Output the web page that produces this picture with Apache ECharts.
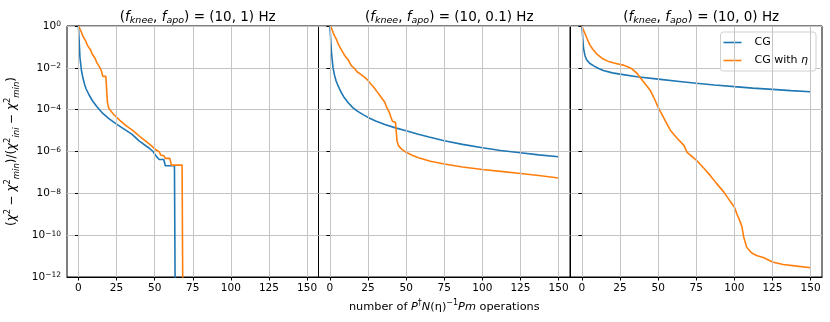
<!DOCTYPE html>
<html>
<head>
<meta charset="utf-8">
<script src="https://cdn.jsdelivr.net/npm/echarts@6/dist/echarts.min.js"></script>
<style>
  html, body { margin: 0; padding: 0; background: #fff; }
  #chart { width: 830px; height: 322px; }
</style>
</head>
<body>
<div id="chart"></div>
<script>
// f_apo value of each panel
const apoValues = ['1', '0.1', '0'];
const xTicks = [0, 25, 50, 75, 100, 125, 150];

// residuals, as log10 values; -20 means the curve fell to zero
const cgIter1 = [0, 1, 2, 3, 4, 5, 7, 9, 12, 16, 20, 25, 30, 35, 40, 46, 49, 50, 51, 52, 53, 56, 57, 63, 64];
const cgLog1 = [0, -1.5, -2.14, -2.5, -2.78, -3.0, -3.3, -3.55, -3.85, -4.18, -4.43, -4.69, -4.93, -5.17, -5.5, -5.82, -6.0, -6.12, -6.22, -6.22, -6.38, -6.38, -6.68, -6.68, -20];
const etaIter1 = [0, 1, 2, 3, 4, 5, 6, 7, 8, 9, 10, 11, 12, 13, 14, 15, 16, 18, 19, 20, 23, 27, 31, 36, 41, 47, 51, 53, 54, 56, 57, 60, 61, 68, 69];
const etaLog1 = [0, -0.15, -0.3, -0.5, -0.55, -0.75, -0.94, -0.98, -1.15, -1.34, -1.38, -1.55, -1.74, -1.78, -1.98, -2.14, -2.41, -2.41, -3.65, -3.95, -4.22, -4.5, -4.75, -5.01, -5.33, -5.67, -5.93, -6.01, -6.17, -6.2, -6.33, -6.33, -6.65, -6.65, -20];

const cgIter2 = [0, 1, 2, 3, 4, 5, 7, 9, 12, 15, 18, 22, 25, 30, 36, 43, 50, 58, 65, 75, 87, 100, 112, 125, 137, 150];
const cgLog2 = [0, -1.25, -1.98, -2.35, -2.62, -2.8, -3.12, -3.38, -3.67, -3.9, -4.07, -4.25, -4.37, -4.54, -4.71, -4.87, -5.01, -5.18, -5.31, -5.49, -5.66, -5.82, -5.95, -6.06, -6.16, -6.25];
const etaIter2 = [0, 1, 2, 3, 4, 5, 6, 8, 10, 12, 14, 16, 18, 20, 23, 25, 27, 29, 31, 33, 36, 37, 39, 40, 41, 43, 44, 45, 47, 50, 54, 58, 66, 75, 87, 100, 112, 125, 137, 150];
const etaLog2 = [0, -0.1, -0.3, -0.46, -0.6, -0.78, -0.94, -1.2, -1.45, -1.62, -1.9, -2.02, -2.2, -2.3, -2.47, -2.6, -2.78, -2.95, -3.15, -3.35, -3.65, -3.85, -4.13, -4.35, -4.55, -4.61, -5.5, -5.72, -5.89, -6.04, -6.18, -6.3, -6.47, -6.6, -6.74, -6.86, -6.95, -7.05, -7.15, -7.27];

const cgIter3 = [0, 1, 2, 3, 5, 8, 11, 14, 20, 25, 36, 50, 64, 75, 87, 100, 112, 125, 137, 150];
const cgLog3 = [0, -1.05, -1.42, -1.6, -1.78, -1.92, -2.03, -2.13, -2.24, -2.3, -2.43, -2.54, -2.65, -2.74, -2.82, -2.9, -2.97, -3.03, -3.09, -3.14];
const etaIter3 = [0, 1, 3, 5, 7, 10, 14, 17, 21, 27, 30, 33, 36, 38, 41, 45, 48, 50, 53, 56, 58, 62, 67, 69, 75, 80, 84, 88, 93, 97, 100, 102, 103, 104, 105, 106, 107, 108, 110, 112, 115, 119, 125, 132, 141, 150];
const etaLog3 = [0, -0.2, -0.54, -0.88, -1.1, -1.36, -1.58, -1.68, -1.77, -1.87, -1.95, -2.06, -2.25, -2.45, -2.72, -3.1, -3.55, -3.89, -4.3, -4.72, -4.98, -5.33, -5.72, -6.04, -6.41, -6.8, -7.13, -7.5, -7.93, -8.35, -8.65, -9.05, -9.2, -9.4, -9.6, -10.05, -10.05, -10.56, -10.75, -10.88, -10.98, -11.07, -11.28, -11.4, -11.48, -11.56];

const panels = [
  { cgIter: cgIter1, cgLog: cgLog1, etaIter: etaIter1, etaLog: etaLog1 },
  { cgIter: cgIter2, cgLog: cgLog2, etaIter: etaIter2, etaLog: etaLog2 },
  { cgIter: cgIter3, cgLog: cgLog3, etaIter: etaIter3, etaLog: etaLog3 }
];

const FONT = 'DejaVu Sans';
const gridLeft = [67, 318.5, 570.5];
const gridWidth = 251.5;

const toPairs = (xs, logs) => xs.map((x, i) => [x, Math.pow(10, logs[i])]);

const grids = [], xAxes = [], yAxes = [], titles = [], series = [];

panels.forEach((p, k) => {
  grids.push({
    left: gridLeft[k], top: 26, width: gridWidth, height: 251,
    show: true, borderColor: '#000', borderWidth: 1, backgroundColor: 'transparent'
  });
  titles.push({
    text: '({i|f}{sub|knee}, {i|f}{sub|apo}) = (10, ' + apoValues[k] + ') Hz',
    left: gridLeft[k] + gridWidth / 2,
    top: 3,
    textAlign: 'center',
    textStyle: {
      fontFamily: FONT, fontSize: 13.5, fontWeight: 'normal', color: '#000', lineHeight: 18,
      rich: {
        i: { fontStyle: 'italic', fontFamily: FONT, fontSize: 13.5, lineHeight: 18, verticalAlign: 'middle' },
        sub: { fontStyle: 'italic', fontFamily: FONT, fontSize: 9.5, lineHeight: 10, verticalAlign: 'bottom' }
      }
    }
  });
  xAxes.push({
    type: 'value', gridIndex: k, min: -7.5, max: 157.5,
    axisLine: { show: true, onZero: false, lineStyle: { color: '#000', width: 1 } },
    axisTick: { show: true, length: 3.5, lineStyle: { color: '#000' }, customValues: xTicks },
    axisLabel: { fontFamily: FONT, fontSize: 10.5, color: '#000', margin: 6, customValues: xTicks },
    splitLine: { show: false },
    name: k === 1 ? 'number of {i|P}{sup|†}{i|N}(η){sup|−1}{i|Pm} operations' : '',
    nameLocation: 'middle',
    nameGap: 22,
    nameTextStyle: {
      fontFamily: FONT, fontSize: 11.3, color: '#000', lineHeight: 16,
      rich: {
        i: { fontStyle: 'italic', fontFamily: FONT, fontSize: 11.3, lineHeight: 16, verticalAlign: 'middle' },
        sup: { fontFamily: FONT, fontSize: 8, lineHeight: 9, verticalAlign: 'top' }
      }
    }
  });
  yAxes.push({
    type: 'log', logBase: 10, gridIndex: k, min: 1e-12, max: 1, interval: 2,
    axisLine: { show: true, lineStyle: { color: '#000', width: 1 } },
    axisTick: { show: true, length: 3.5, lineStyle: { color: '#000' } },
    minorTick: { show: false },
    axisLabel: {
      show: k === 0, fontFamily: FONT, fontSize: 10.5, color: '#000', margin: 6,
      formatter: v => {
        const e = Math.round(Math.log10(v));
        return '10{sup|' + (e < 0 ? '−' + (-e) : e) + '}';
      },
      rich: {
        sup: { fontFamily: FONT, fontSize: 7.5, lineHeight: 8, verticalAlign: 'top', padding: [0, 0, 4, 0] }
      }
    },
    splitLine: { show: true, lineStyle: { color: '#c4c4c4', width: 1 } },
    name: k === 0 ? '({i|χ}{sup|2} − {i|χ}{sup|2}{sub|min})/({i|χ}{sup|2}{sub|ini} − {i|χ}{sup|2}{sub|min})' : '',
    nameLocation: 'middle',
    nameRotate: 90,
    nameGap: 46,
    nameTextStyle: {
      fontFamily: FONT, fontSize: 11.8, color: '#000', lineHeight: 18,
      rich: {
        i: { fontStyle: 'italic', fontFamily: FONT, fontSize: 11.8, lineHeight: 18, verticalAlign: 'middle' },
        sup: { fontFamily: FONT, fontSize: 8.5, lineHeight: 10, verticalAlign: 'top' },
        sub: { fontStyle: 'italic', fontFamily: FONT, fontSize: 8.5, lineHeight: 10, verticalAlign: 'bottom' }
      }
    }
  });
  // vertical grid lines at the x ticks, placed through the axis scale
  series.push({
    type: 'line', xAxisIndex: k, yAxisIndex: k, data: [], silent: true,
    markLine: {
      silent: true, symbol: ['none', 'none'], label: { show: false },
      lineStyle: { color: '#c4c4c4', width: 1, type: 'solid' },
      data: xTicks.map(v => ({ xAxis: v }))
    },
    z: 1
  });
  series.push({
    name: 'CG', type: 'line', xAxisIndex: k, yAxisIndex: k,
    data: toPairs(p.cgIter, p.cgLog), showSymbol: false, clip: true,
    lineStyle: { color: '#1f77b4', width: 1.6 }, itemStyle: { color: '#1f77b4' }, z: 3
  });
  series.push({
    name: 'CG with η', type: 'line', xAxisIndex: k, yAxisIndex: k,
    data: toPairs(p.etaIter, p.etaLog), showSymbol: false, clip: true,
    lineStyle: { color: '#ff7f0e', width: 1.6 }, itemStyle: { color: '#ff7f0e' }, z: 4
  });
});

const chart = echarts.init(document.getElementById('chart'), null, { renderer: 'canvas' });
chart.setOption({
  animation: false,
  backgroundColor: '#fff',
  title: titles,
  grid: grids,
  xAxis: xAxes,
  yAxis: yAxes,
  legend: {
    data: ['CG', 'CG with η'],
    orient: 'vertical',
    right: 14,
    top: 32,
    icon: 'rect',
    itemWidth: 18,
    itemHeight: 1.6,
    itemGap: 7,
    padding: [5, 8, 5, 3],
    borderColor: '#d0d0d0',
    borderWidth: 1,
    borderRadius: 3,
    backgroundColor: 'rgba(255,255,255,0.85)',
    textStyle: {
      fontFamily: FONT, fontSize: 11, color: '#000', padding: [0, 0, 0, 8],
      rich: { i: { fontStyle: 'italic', fontFamily: FONT, fontSize: 11 } }
    },
    formatter: name => name === 'CG with η' ? 'CG with {i|η}' : name
  },
  series: series
});
</script>
</body>
</html>
